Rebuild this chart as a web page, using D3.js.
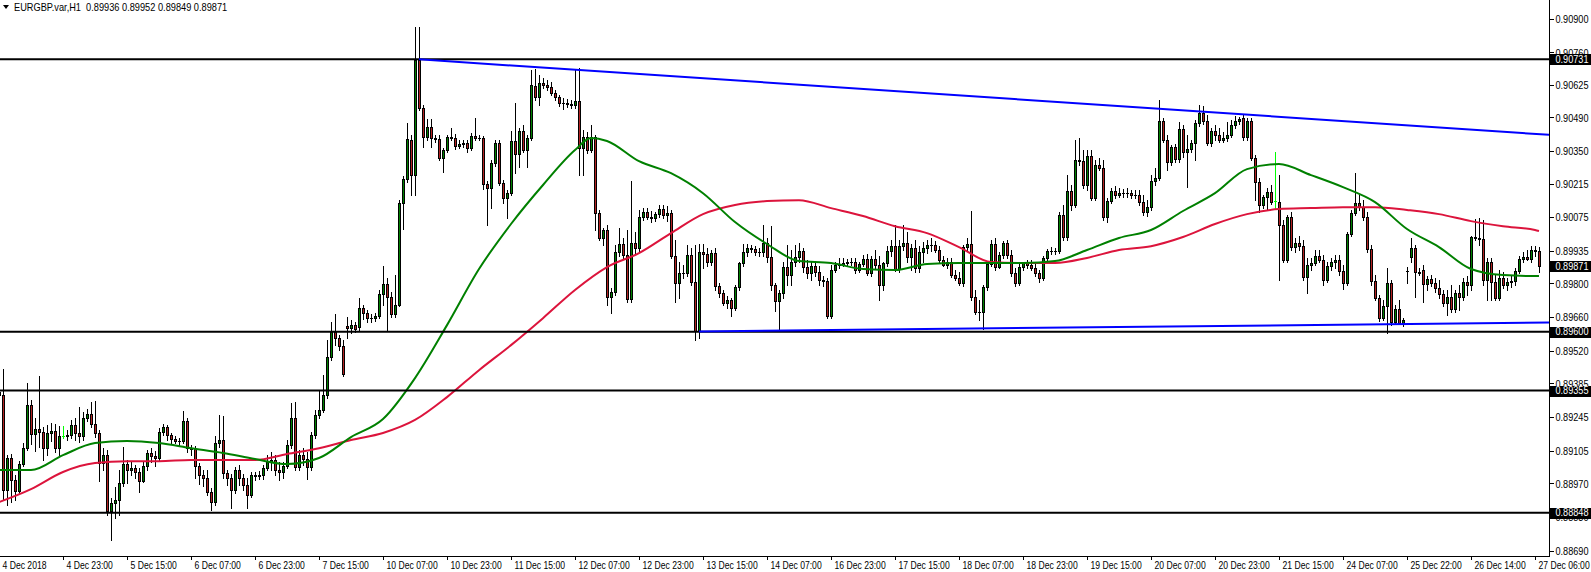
<!DOCTYPE html>
<html><head><meta charset="utf-8">
<script src="https://cdn.jsdelivr.net/npm/d3@7"></script>
<style>
html,body{margin:0;padding:0;background:#fff;}
svg{display:block;font-family:"Liberation Sans",Arial,sans-serif;}
</style></head><body>
<svg id="c" width="1591" height="572"></svg>
<script>
const symbolTitle = "EURGBP.var,H1";
const titleValues = ["0.89936","0.89952","0.89849","0.89871"];

const opens = [
.89349,.89337,.88942,.89075,.88984,.88938,.89050,.89116,.89295,.89175,
.89195,.89183,.89116,.89179,.89187,.89116,.89166,.89166,.89170,.89212,
.89179,.89166,.89241,.89257,.89216,.89179,.89054,.89087,.88855,.88888,
.88901,.88971,.89050,.89025,.89033,.89017,.88979,.89042,.89096,.89083,
.89075,.89183,.89204,.89170,.89154,.89146,.89144,.89229,.89116,.89112,
.89042,.89004,.88992,.88934,.88892,.89137,.89150,.89013,.88992,.88942,
.89025,.88992,.88963,.88921,.89004,.89000,.89004,.89033,.89058,.89067,
.89025,.89017,.89042,.89129,.89241,.89038,.89087,.89071,.89038,.89170,
.89253,.89274,.89337,.89494,.89598,.89573,.89540,.89623,.89615,.89627,
.89619,.89698,.89677,.89656,.89655,.89665,.89756,.89798,.89744,.89673,
.89710,.90134,.90234,.90396,.90250,.90728,.90528,.90408,.90450,.90404,
.90400,.90321,.90354,.90408,.90404,.90371,.90379,.90383,.90362,.90412,
.90404,.90403,.90213,.90196,.90300,.90383,.90217,.90155,.90175,.90391,
.90337,.90433,.90354,.90404,.90620,.90574,.90632,.90624,.90616,.90591,
.90574,.90549,.90548,.90547,.90541,.90558,.90362,.90408,.90354,.90408,
.90092,.89989,.90022,.89744,.89764,.89930,.89964,.89918,.89735,.89968,
.89947,.90076,.90097,.90076,.90072,.90088,.90109,.90084,.90092,.89914,
.89802,.89843,.89842,.89918,.89806,.89602,.89930,.89922,.89889,.89926,
.89789,.89760,.89719,.89731,.89698,.89785,.89885,.89930,.89947,.89943,
.89930,.89929,.89968,.89910,.89793,.89727,.89760,.89868,.89835,.89889,
.89910,.89935,.89868,.89843,.89872,.89847,.89814,.89810,.89665,.89856,
.89877,.89876,.89885,.89889,.89888,.89856,.89881,.89901,.89843,.89901,
.89877,.89793,.89885,.89935,.89955,.89860,.89955,.89968,.89910,.89947,
.89864,.89930,.89947,.89960,.89959,.89939,.89897,.89877,.89889,.89835,
.89823,.89802,.89951,.89964,.89744,.89681,.89683,.89785,.89881,.89964,
.89868,.89918,.89968,.89918,.89843,.89802,.89868,.89885,.89877,.89864,
.89843,.89823,.89906,.89935,.89934,.89935,.90084,.89993,.90184,.90126,
.90313,.90308,.90209,.90329,.90155,.90292,.90279,.90076,.90142,.90184,
.90167,.90175,.90174,.90175,.90167,.90166,.90138,.90097,.90117,.90225,
.90238,.90474,.90396,.90304,.90367,.90317,.90441,.90346,.90358,.90383,
.90466,.90508,.90474,.90383,.90433,.90416,.90396,.90404,.90416,.90458,
.90474,.90487,.90408,.90474,.90321,.90221,.90126,.90159,.90180,.90142,
.90138,.90042,.89897,.90076,.89951,.89968,.89955,.89827,.89877,.89885,
.89914,.89897,.89814,.89872,.89889,.89897,.89852,.89802,.90005,.90092,
.90134,.90117,.90076,.89943,.89810,.89739,.89656,.89706,.89802,.89640,
.89694,.89636,.89852,.89910,.89947,.89847,.89856,.89798,.89818,.89802,
.89781,.89756,.89719,.89744,.89694,.89760,.89744,.89806,.89793,.89993,
.89989,.89986,.89814,.89889,.89806,.89739,.89823,.89793,.89806,.89810,
.89852,.89901,.89910,.89903,.89939,.89936];

const highs = [
.89378,.89445,.89087,.89092,.89004,.89062,.89137,.89386,.89316,.89241,
.89415,.89204,.89212,.89220,.89216,.89208,.89208,.89191,.89233,.89241,
.89287,.89266,.89278,.89308,.89312,.89191,.89116,.89108,.88909,.88954,
.89025,.89121,.89067,.89058,.89046,.89033,.89058,.89108,.89116,.89104,
.89199,.89216,.89212,.89179,.89166,.89158,.89270,.89241,.89129,.89125,
.89054,.89025,.89025,.88950,.89166,.89253,.89249,.89025,.89009,.89038,
.89046,.89009,.88992,.89017,.89017,.89021,.89046,.89087,.89100,.89087,
.89058,.89058,.89150,.89303,.89308,.89108,.89116,.89100,.89183,.89274,
.89357,.89420,.89565,.89640,.89673,.89586,.89565,.89660,.89648,.89640,
.89739,.89710,.89690,.89673,.89677,.89773,.89872,.89823,.89764,.89835,
.90146,.90246,.90466,.90416,.90865,.90865,.90541,.90483,.90483,.90416,
.90416,.90362,.90416,.90445,.90421,.90396,.90396,.90396,.90425,.90487,
.90416,.90412,.90225,.90313,.90396,.90396,.90230,.90188,.90433,.90549,
.90445,.90458,.90416,.90686,.90690,.90666,.90653,.90645,.90637,.90603,
.90582,.90570,.90566,.90562,.90686,.90695,.90437,.90429,.90458,.90416,
.90105,.90030,.90042,.89781,.89960,.90030,.89989,.90022,.90225,.90013,
.90105,.90113,.90113,.90101,.90097,.90126,.90126,.90122,.90105,.89980,
.89889,.89877,.89960,.89947,.89960,.89964,.89964,.89947,.89939,.89947,
.89802,.89773,.89748,.89739,.89793,.89889,.89964,.89964,.89960,.89955,
.89947,.90042,.89989,.90038,.89802,.89773,.89889,.89960,.89939,.89960,
.89968,.89947,.89897,.89889,.89889,.89872,.89831,.89823,.89877,.89889,
.89906,.89906,.89901,.89906,.89906,.89889,.89918,.89922,.89914,.89939,
.89914,.89889,.89955,.89980,.90042,.89980,.90042,.90013,.89964,.89980,
.89955,.89972,.89980,.89989,.89976,.89955,.89914,.89906,.89906,.89856,
.89847,.89960,.89989,.90101,.89773,.89731,.89793,.89889,.89980,.89989,
.89930,.89976,.89980,.89939,.89864,.89881,.89889,.89897,.89897,.89881,
.89856,.89914,.89943,.89951,.89947,.90097,.90126,.90250,.90209,.90396,
.90404,.90354,.90354,.90354,.90313,.90321,.90313,.90155,.90196,.90205,
.90196,.90192,.90196,.90188,.90188,.90188,.90167,.90146,.90250,.90279,
.90562,.90487,.90416,.90375,.90379,.90470,.90458,.90416,.90396,.90479,
.90541,.90537,.90499,.90445,.90458,.90445,.90429,.90470,.90479,.90495,
.90491,.90499,.90487,.90487,.90333,.90238,.90167,.90196,.90209,.90346,
.90250,.90063,.90084,.90097,.89989,.89997,.89980,.89906,.89906,.89939,
.89939,.89918,.89889,.89906,.89918,.89918,.89877,.90013,.90105,.90258,
.90167,.90146,.90097,.89960,.89835,.89752,.89731,.89864,.89814,.89710,
.89731,.89656,.89868,.89989,.89960,.89864,.89877,.89831,.89835,.89823,
.89814,.89773,.89773,.89793,.89773,.89793,.89823,.89831,.89997,.90068,
.90072,.90063,.89906,.89906,.89835,.89856,.89847,.89823,.89831,.89864,
.89914,.89930,.89939,.89955,.89955,.89952];

const lows = [
.89324,.88901,.88880,.88892,.88901,.88925,.89042,.89108,.89133,.89104,
.89121,.89067,.89087,.89146,.89100,.89087,.89158,.89150,.89158,.89150,
.89141,.89150,.89229,.89204,.89162,.88979,.89025,.88838,.88734,.88826,
.88838,.88959,.88971,.89004,.88992,.88934,.88975,.89025,.89058,.89042,
.89067,.89170,.89150,.89137,.89137,.89129,.89137,.89100,.89087,.88992,
.88967,.88959,.88921,.88859,.88880,.89121,.88992,.88963,.88867,.88930,
.88963,.88942,.88867,.88913,.88984,.88988,.88988,.89025,.89025,.89004,
.88984,.88992,.89033,.89116,.89025,.89025,.89046,.88988,.89025,.89158,
.89241,.89266,.89324,.89482,.89544,.89523,.89415,.89573,.89594,.89598,
.89607,.89652,.89640,.89640,.89644,.89656,.89710,.89607,.89661,.89661,
.89706,.90026,.90221,.90167,.90167,.90520,.90367,.90396,.90367,.90387,
.90313,.90263,.90346,.90396,.90358,.90362,.90367,.90346,.90354,.90396,
.90396,.90192,.90042,.90113,.90288,.90209,.90134,.90072,.90167,.90258,
.90284,.90346,.90284,.90396,.90562,.90541,.90612,.90603,.90582,.90562,
.90537,.90524,.90533,.90528,.90528,.90250,.90250,.90342,.90346,.90022,
.89980,.89960,.89710,.89677,.89752,.89914,.89906,.89723,.89723,.89922,
.89930,.90063,.90067,.90055,.90059,.90076,.90072,.90059,.89906,.89723,
.89739,.89823,.89831,.89793,.89565,.89573,.89864,.89872,.89877,.89773,
.89744,.89710,.89698,.89665,.89690,.89773,.89872,.89914,.89930,.89918,
.89914,.89914,.89889,.89773,.89685,.89607,.89739,.89793,.89793,.89872,
.89889,.89847,.89823,.89814,.89831,.89793,.89789,.89656,.89656,.89847,
.89864,.89872,.89877,.89877,.89843,.89847,.89872,.89835,.89831,.89864,
.89731,.89773,.89872,.89914,.89851,.89847,.89939,.89889,.89856,.89847,
.89847,.89889,.89926,.89935,.89930,.89889,.89872,.89864,.89827,.89814,
.89793,.89789,.89939,.89731,.89673,.89648,.89611,.89773,.89872,.89856,
.89864,.89906,.89906,.89831,.89789,.89793,.89856,.89864,.89856,.89831,
.89806,.89814,.89897,.89922,.89922,.89926,.89980,.89980,.90105,.90117,
.90292,.90196,.90188,.90146,.90146,.90271,.90063,.90055,.90134,.90155,
.90159,.90159,.90159,.90155,.90155,.90126,.90084,.90080,.90105,.90209,
.90230,.90387,.90271,.90292,.90304,.90304,.90325,.90200,.90346,.90313,
.90454,.90462,.90375,.90371,.90396,.90387,.90387,.90391,.90408,.90445,
.90462,.90396,.90396,.90313,.90146,.90097,.90113,.90105,.90130,.90109,
.89814,.89889,.89889,.89939,.89930,.89939,.89814,.89760,.89856,.89877,
.89889,.89793,.89806,.89856,.89864,.89835,.89777,.89793,.89997,.90084,
.90105,.90063,.89930,.89793,.89731,.89644,.89648,.89594,.89627,.89631,
.89631,.89623,.89802,.89889,.89744,.89835,.89723,.89773,.89789,.89764,
.89739,.89706,.89669,.89681,.89681,.89690,.89731,.89752,.89773,.89980,
.89960,.89793,.89731,.89731,.89731,.89731,.89781,.89773,.89785,.89793,
.89843,.89889,.89897,.89889,.89914,.89849];

const closes = [
.89337,.88942,.89075,.88984,.88938,.89050,.89116,.89295,.89175,.89195,
.89183,.89116,.89179,.89187,.89116,.89166,.89166,.89170,.89212,.89179,
.89166,.89241,.89257,.89216,.89179,.89054,.89087,.88855,.88888,.88901,
.88971,.89050,.89025,.89033,.89017,.88979,.89042,.89096,.89083,.89075,
.89183,.89204,.89170,.89154,.89146,.89144,.89229,.89116,.89112,.89042,
.89004,.88992,.88934,.88892,.89137,.89150,.89013,.88992,.88942,.89025,
.88992,.88963,.88921,.89004,.89000,.89004,.89033,.89058,.89067,.89025,
.89017,.89042,.89129,.89241,.89038,.89087,.89071,.89038,.89170,.89253,
.89274,.89337,.89494,.89598,.89573,.89540,.89424,.89615,.89627,.89611,
.89698,.89677,.89656,.89655,.89665,.89756,.89798,.89744,.89673,.89710,
.90134,.90234,.90400,.90250,.90728,.90528,.90408,.90450,.90404,.90400,
.90321,.90354,.90408,.90404,.90371,.90379,.90383,.90362,.90412,.90404,
.90403,.90213,.90196,.90300,.90383,.90217,.90155,.90175,.90391,.90337,
.90433,.90354,.90404,.90624,.90574,.90632,.90624,.90616,.90591,.90574,
.90549,.90548,.90547,.90541,.90558,.90362,.90408,.90354,.90408,.90092,
.89989,.90022,.89744,.89764,.89930,.89964,.89918,.89735,.89968,.89947,
.90076,.90097,.90076,.90072,.90088,.90109,.90084,.90092,.89914,.89802,
.89843,.89842,.89918,.89806,.89602,.89930,.89922,.89889,.89926,.89789,
.89760,.89719,.89731,.89698,.89785,.89885,.89930,.89947,.89943,.89930,
.89929,.89968,.89910,.89793,.89727,.89760,.89868,.89835,.89889,.89910,
.89935,.89868,.89843,.89872,.89847,.89814,.89810,.89665,.89856,.89877,
.89876,.89885,.89889,.89888,.89856,.89881,.89901,.89843,.89901,.89877,
.89793,.89885,.89935,.89955,.89860,.89955,.89968,.89910,.89947,.89864,
.89930,.89947,.89960,.89959,.89939,.89897,.89877,.89889,.89835,.89823,
.89802,.89951,.89964,.89744,.89681,.89683,.89785,.89881,.89964,.89868,
.89918,.89968,.89918,.89843,.89802,.89868,.89885,.89877,.89864,.89843,
.89823,.89906,.89935,.89934,.89935,.90084,.89993,.90184,.90126,.90313,
.90308,.90209,.90329,.90155,.90292,.90279,.90076,.90142,.90184,.90167,
.90175,.90174,.90175,.90167,.90166,.90138,.90097,.90117,.90225,.90238,
.90474,.90396,.90304,.90367,.90317,.90441,.90346,.90358,.90383,.90466,
.90508,.90474,.90383,.90433,.90416,.90396,.90404,.90416,.90458,.90474,
.90483,.90408,.90474,.90321,.90221,.90126,.90159,.90180,.90138,.90142,
.90042,.89897,.90076,.89951,.89968,.89955,.89827,.89877,.89885,.89914,
.89897,.89814,.89872,.89889,.89897,.89852,.89802,.90005,.90092,.90134,
.90117,.90076,.89943,.89810,.89739,.89656,.89706,.89802,.89640,.89694,
.89636,.89648,.89851,.89947,.89847,.89843,.89798,.89818,.89802,.89781,
.89756,.89719,.89744,.89694,.89760,.89744,.89806,.89793,.89993,.89989,
.89986,.89814,.89889,.89806,.89739,.89823,.89793,.89806,.89810,.89852,
.89901,.89910,.89903,.89939,.89936,.89871];

// moving averages: [bar index, price]
const maFast = [[0,.89025],[8,.89025],[16,.89087],[24,.89137],[32,.89146],[40,.89137],[48,.89116],[56,.89096],[64,.89071],[72,.89050],[80,.89075],[88,.89162],[96,.89237],[104,.89407],[112,.89627],[120,.89860],[128,.90047],[136,.90209],[144,.90354],[148,.90404],[152,.90392],[160,.90308],[168,.90258],[176,.90175],[184,.90055],[192,.89964],[200,.89893],[208,.89885],[216,.89860],[224,.89856],[232,.89881],[240,.89885],[248,.89885],[256,.89885],[264,.89893],[272,.89939],[280,.89989],[288,.90022],[296,.90101],[304,.90175],[312,.90275],[320,.90296],[328,.90250],[336,.90200],[344,.90138],[352,.90026],[360,.89951],[368,.89860],[376,.89835],[384,.89831],[385,.89831]];
const maSlow = [[0,.88892],[8,.88946],[16,.89017],[24,.89054],[32,.89062],[40,.89062],[48,.89067],[56,.89067],[64,.89067],[72,.89092],[80,.89116],[88,.89150],[96,.89179],[104,.89233],[112,.89328],[120,.89440],[128,.89544],[136,.89656],[144,.89773],[152,.89868],[160,.89926],[168,.90009],[176,.90088],[184,.90126],[192,.90142],[200,.90146],[208,.90113],[216,.90080],[224,.90038],[232,.90009],[240,.89951],[248,.89889],[256,.89885],[264,.89885],[272,.89906],[280,.89939],[288,.89955],[296,.89993],[304,.90047],[312,.90088],[320,.90109],[328,.90113],[336,.90117],[344,.90117],[352,.90105],[360,.90088],[368,.90059],[376,.90038],[384,.90022],[385,.90018]];

const levels = [0.90731, 0.89600, 0.89355, 0.88848];
const lastPrice = 0.89871;
const trendUpper = [[105, 0.90731], [385, 0.90420]];
const trendLower = [[175, 0.89601], [385, 0.89637]];

const priceTicks = ["0.90900","0.90760","0.90625","0.90490","0.90350","0.90215","0.90075","0.89935","0.89800","0.89660","0.89520","0.89385","0.89245","0.89105","0.88970","0.88830","0.88690"];
const timeTickBars = [0,16,32,48,64,80,96,112,128,144,160,176,192,208,224,240,256,272,288,304,320,336,352,368,384];
const timeTickLabels = ["4 Dec 2018","4 Dec 23:00","5 Dec 15:00","6 Dec 07:00","6 Dec 23:00","7 Dec 15:00","10 Dec 07:00","10 Dec 23:00","11 Dec 15:00","12 Dec 07:00","12 Dec 23:00","13 Dec 15:00","14 Dec 07:00","16 Dec 23:00","17 Dec 15:00","18 Dec 07:00","18 Dec 23:00","19 Dec 15:00","20 Dec 07:00","20 Dec 23:00","21 Dec 15:00","24 Dec 07:00","25 Dec 22:00","26 Dec 14:00","27 Dec 06:00"];

// ---------- drawing ----------
const svg = d3.select("#c");
const plotR = 1549, plotB = 556;
const FS = "10.5px";
const x = d3.scaleLinear().domain([0, 385]).range([-1, 1539]);
const y = d3.scaleLinear().domain([0.88848, 0.90731]).range([512.7, 59.3]);

svg.append("rect").attr("width",1591).attr("height",572).attr("fill","#fff");
svg.append("defs").append("clipPath").attr("id","clip")
  .append("rect").attr("x",0).attr("y",0).attr("width",plotR).attr("height",plotB);

const plot = svg.append("g").attr("clip-path","url(#clip)").attr("shape-rendering","crispEdges");
const BULL = "#008000", BEAR = "#b22222", DOJI = "#00ff00";

opens.forEach((o, i) => {
  const h = highs[i], l = lows[i], c = closes[i];
  const cx = Math.round(x(i));
  const yh = Math.round(y(h)), yl = Math.round(y(l));
  if (o === c) {
    const yo = Math.round(y(o));
    plot.append("rect").attr("x",cx).attr("y",yh).attr("width",1).attr("height",yl-yh+1).attr("fill",DOJI);
    plot.append("rect").attr("x",cx-1).attr("y",yo).attr("width",3).attr("height",1).attr("fill",DOJI);
    return;
  }
  plot.append("rect").attr("x",cx).attr("y",yh).attr("width",1).attr("height",yl-yh+1).attr("fill","#000");
  const top = Math.round(y(Math.max(o,c))), bot = Math.round(y(Math.min(o,c)));
  plot.append("rect").attr("x",cx-1).attr("y",top).attr("width",3).attr("height",bot-top+1).attr("fill","#000");
  if (bot - top >= 2) {
    plot.append("rect").attr("x",cx).attr("y",top+1).attr("width",1).attr("height",bot-top-1)
      .attr("fill", c > o ? BULL : BEAR);
  }
});

const lines = svg.append("g").attr("clip-path","url(#clip)");
const maLine = d3.line().x(d => x(d[0])).y(d => y(d[1])).curve(d3.curveMonotoneX);
lines.append("path").attr("d", maLine(maSlow)).attr("fill","none").attr("stroke","#dc143c").attr("stroke-width",2);
lines.append("path").attr("d", maLine(maFast)).attr("fill","none").attr("stroke","#008000").attr("stroke-width",2);

// horizontal levels
levels.forEach(p => {
  lines.append("line").attr("x1",0).attr("x2",plotR).attr("y1",y(p)).attr("y2",y(p))
    .attr("stroke","#000").attr("stroke-width",2);
});

// trend rays
function ray(t) {
  const [a, b] = t;
  const endBar = x.invert(plotR);
  const slope = (b[1]-a[1])/(b[0]-a[0]);
  return [[a[0], a[1]], [endBar, a[1] + slope*(endBar - a[0])]];
}
[trendUpper, trendLower].forEach(t => {
  const r = ray(t);
  lines.append("line").attr("x1",x(r[0][0])).attr("y1",y(r[0][1])).attr("x2",x(r[1][0])).attr("y2",y(r[1][1]))
    .attr("stroke","#0000ff").attr("stroke-width",2);
});

// axes
const axisG = svg.append("g").attr("shape-rendering","crispEdges");
axisG.append("line").attr("x1",plotR+0.5).attr("x2",plotR+0.5).attr("y1",0).attr("y2",plotB+0.5).attr("stroke","#000");
axisG.append("line").attr("x1",0).attr("x2",plotR+0.5).attr("y1",plotB+0.5).attr("y2",plotB+0.5).attr("stroke","#000");

// text helper: horizontally condensed text (MT4 Tahoma-like metrics)
function label(parent, tx, ty, str, sx, fill) {
  return parent.append("text")
    .attr("transform", `translate(${tx},${ty}) scale(${sx},1)`)
    .attr("font-size", FS).attr("fill", fill || "#000")
    .attr("xml:space","preserve")
    .text(str);
}

const yAxis = d3.axisRight(y).tickValues(priceTicks.map(Number)).tickSize(4).tickFormat((d,i)=>priceTicks[i]);
const ya = svg.append("g").attr("transform",`translate(${plotR+0.5},0)`).call(yAxis);
ya.select(".domain").remove();
ya.selectAll("line").attr("stroke","#000").attr("shape-rendering","crispEdges");
ya.selectAll("text").attr("x",null).attr("dy",null)
  .attr("transform","translate(6,3.7) scale(0.87,1)")
  .attr("font-size",FS).attr("font-family","Liberation Sans, Arial, sans-serif").attr("fill","#000");

const xa = svg.append("g");
timeTickBars.forEach((b,i) => {
  const tx = Math.round(x(b)) + 0.5;
  xa.append("line").attr("x1",tx).attr("x2",tx).attr("y1",plotB).attr("y2",plotB+4).attr("stroke","#000").attr("shape-rendering","crispEdges");
  label(xa, tx + 3, 569, timeTickLabels[i], 0.82);
});

// price tags
function tag(p) {
  const yy = y(p);
  svg.append("rect").attr("x",plotR+1).attr("y",Math.round(yy)-5).attr("width",42).attr("height",11).attr("fill","#000");
  label(svg, plotR+6.5, yy+3.7, d3.format(".5f")(p), 0.87, "#fff");
}
levels.forEach(tag);
tag(lastPrice);

// title
svg.append("path").attr("d","M3,5L9,5L6,9Z").attr("fill","#000");
label(svg, 14, 11, symbolTitle + "  " + titleValues.join(" "), 0.88);
</script>
</body></html>
